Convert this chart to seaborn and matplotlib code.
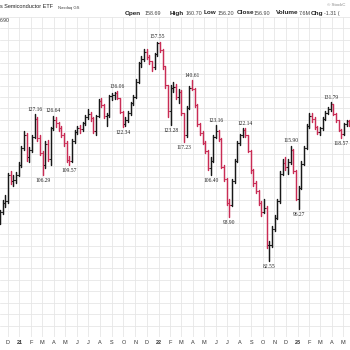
import numpy as np
import pandas as pd
import matplotlib
matplotlib.use("Agg")
import matplotlib.pyplot as plt
import seaborn as sns

# ---------------- data (weekly OHLC) ----------------
first_open = 92.5
close = [95.4, 98.0, 98.5, 106.3, 104.6, 104.8, 106.3, 109.5, 115.2, 119.5,
         112.2, 114.6, 119.0, 125.5, 118.5, 113.5, 109.5, 116.5, 111.5, 122.0,
         125.0, 123.8, 122.0, 119.8, 116.8, 111.2, 111.0, 117.5, 120.8, 122.2,
         121.8, 123.9, 126.3, 127.2, 125.8, 121.2, 126.5, 132.3, 130.8, 126.5,
         126.8, 134.2, 134.5, 135.6, 133.5, 128.2, 123.5, 125.0, 127.6, 131.4,
         133.8, 140.0, 147.8, 149.8, 153.0, 150.5, 148.8, 146.0, 151.8, 156.8,
         153.5, 146.6, 138.5, 128.5, 137.5, 138.0, 133.8, 136.0, 127.5, 119.5,
         129.5, 137.5, 137.0, 130.8, 123.5, 120.5, 117.0, 114.0, 108.5, 111.0,
         119.0, 121.0, 118.2, 109.0, 105.0, 98.0, 97.5, 104.5, 110.8, 116.8,
         119.5, 121.5, 119.5, 114.3, 107.8, 103.8, 101.5, 98.0, 95.5, 96.5,
         86.5, 86.5, 90.8, 93.8, 98.5, 106.8, 110.2, 108.8, 110.5, 114.5,
         107.5, 99.0, 102.5, 110.0, 115.2, 122.8, 126.5, 125.5, 122.5, 120.8,
         122.0, 125.5, 127.8, 129.0, 131.0, 127.3, 125.0, 121.5, 120.0, 123.5,
         124.6, 123.6]
high = [96.0, 98.8, 100.2, 107.0, 107.5, 106.3, 107.4, 110.4, 116.0, 121.0,
        120.5, 115.5, 119.8, 127.16, 126.0, 119.5, 114.0, 117.5, 118.0, 122.5,
        126.64, 126.0, 124.5, 122.8, 120.5, 117.5, 112.5, 118.2, 121.5, 123.0,
        123.2, 124.5, 127.0, 129.0, 128.0, 126.3, 127.0, 133.0, 133.5, 131.0,
        127.5, 134.8, 135.5, 136.0, 136.06, 133.5, 128.5, 126.2, 128.3, 132.0,
        134.5, 141.0, 148.5, 151.0, 154.2, 154.0, 151.5, 149.0, 152.5, 157.55,
        157.2, 154.0, 146.5, 138.5, 138.5, 140.0, 139.2, 137.0, 136.5, 127.5,
        130.3, 138.2, 140.61, 137.5, 131.0, 124.0, 121.0, 117.5, 114.5, 112.0,
        119.5, 123.16, 121.5, 118.5, 109.5, 105.5, 99.0, 105.2, 111.5, 117.5,
        120.0, 122.0, 122.14, 119.8, 114.5, 108.2, 104.5, 101.8, 98.5, 99.2,
        97.0, 87.5, 91.5, 94.5, 99.2, 107.5, 111.5, 112.0, 111.5, 115.90,
        114.8, 107.8, 103.0, 110.8, 116.0, 123.5, 127.8, 127.5, 126.0, 123.0,
        122.6, 126.0, 128.5, 129.8, 131.79, 131.2, 127.5, 125.2, 121.8, 124.0,
        125.2, 125.0]
low = [92.0, 94.8, 96.8, 98.0, 103.5, 103.0, 103.8, 105.9, 109.0, 114.5,
       111.0, 110.5, 113.8, 118.5, 117.5, 112.8, 106.29, 108.5, 110.8, 109.6,
       121.5, 122.5, 121.0, 119.0, 116.0, 110.5, 109.57, 110.5, 116.8, 120.0,
       120.5, 121.0, 123.2, 125.5, 124.8, 120.5, 119.8, 126.0, 129.8, 125.8,
       122.8, 126.0, 132.5, 133.2, 133.0, 127.5, 122.34, 123.0, 124.3, 127.0,
       130.8, 133.5, 139.5, 146.0, 149.0, 149.5, 147.5, 144.5, 145.5, 151.0,
       152.8, 145.5, 137.5, 126.0, 123.28, 135.8, 133.0, 131.5, 126.8, 117.23,
       118.8, 129.0, 136.5, 130.0, 123.0, 119.8, 116.5, 113.5, 107.8, 106.40,
       110.5, 118.5, 117.5, 108.5, 104.5, 97.5, 93.90, 97.0, 104.0, 110.5,
       116.2, 118.8, 119.0, 113.8, 107.0, 103.0, 100.8, 97.5, 94.2, 95.0,
       85.8, 82.55, 86.0, 90.2, 93.5, 98.0, 106.5, 108.0, 106.8, 110.0,
       107.0, 98.8, 96.27, 102.0, 109.5, 114.8, 122.0, 124.5, 121.8, 120.0,
       119.8, 121.5, 125.0, 127.2, 128.5, 126.8, 124.5, 121.0, 118.57, 119.5,
       123.0, 123.0]

peak_labels = [127.16, 126.64, 136.06, 157.55, 140.61, 123.16, 122.14, 115.90, 131.79]
trough_labels = [106.29, 109.57, 122.34, 123.28, 117.23, 106.40, 93.90, 82.55, 96.27, 118.57]

month_labels = ["D", "21", "F", "M", "A", "M", "J", "J", "A", "S", "O", "N",
                "D", "22", "F", "M", "A", "M", "J", "J", "A", "S", "O", "N",
                "D", "23", "F", "M", "A", "M"]

title = "s Semiconductor ETF"
exchange = "Nasdaq GS"
header = [("Open", "158.69"), ("High", "160.70"), ("Low", "156.20"),
          ("Close", "156.90"), ("Volume", "7.6M"), ("Chg", "-1.31 (")]

# ---------------- build frame ----------------
dates = pd.date_range("2020-11-11", periods=len(close), freq="7D")
opens = [first_open] + close[:-1]
df = pd.DataFrame({"date": dates, "open": opens, "high": high, "low": low, "close": close})
df["dir"] = np.where(df["close"] >= df["open"], "up", "down")
df["bar"] = np.arange(len(df))
long = pd.concat([
    df[["date", "bar", "dir"]].assign(price=df["low"]),
    df[["date", "bar", "dir"]].assign(price=df["high"]),
]).sort_values(["bar", "price"])

sns.set_style("white")
plt.rcParams["font.family"] = ["Liberation Sans", "DejaVu Sans"]

W = H = 350
fig = plt.figure(figsize=(3.5, 3.5), dpi=100)
ax_bottom, ax_top = 337, 17
ax = fig.add_axes([0, 1 - ax_bottom / H, 1, (ax_bottom - ax_top) / H])
ax.set_yscale("log")

palette = {"up": "#181818", "down": "#c92c55"}
sns.lineplot(data=long, x="date", y="price", units="bar", estimator=None,
             hue="dir", palette=palette, legend=False, lw=1.05, sort=False, ax=ax)

# open / close ticks
tick = pd.Timedelta(days=3)
for d_, o_, c_, s_ in zip(df["date"], df["open"], df["close"], df["dir"]):
    ax.plot([d_ - tick, d_], [o_, o_], color=palette[s_], lw=0.8)
    ax.plot([d_, d_ + tick], [c_, c_], color=palette[s_], lw=0.8)

ax.set_ylim(69.5, 164.5)
ax.set_xlim(pd.Timestamp("2020-11-11"), pd.Timestamp("2020-11-11") + pd.Timedelta(days=918.5))

# grid
month_starts = pd.date_range("2020-12-01", periods=len(month_labels), freq="MS")
ax.set_xticks(month_starts)
ax.set_xticklabels(month_labels)
for lab in ax.get_xticklabels():
    lab.set_fontsize(4.0)
    lab.set_color("#333333")
    if lab.get_text().isdigit():
        lab.set_fontweight("bold")
ax.tick_params(axis="x", length=0, pad=2.0)
ygrid = np.exp(np.arange(np.log(66.0), np.log(170.0), 12.5 / 371.3))
ax.set_yticks(ygrid)
ax.set_yticklabels([])
ax.yaxis.set_minor_locator(matplotlib.ticker.NullLocator())
ax.tick_params(axis="y", length=0)
ax.grid(True, color="#e6e6e6", lw=0.6)
ax.set_axisbelow(True)
for s in ax.spines.values():
    s.set_visible(False)
ax.set_xlabel("")
ax.set_ylabel("")

# annotations
for v in peak_labels:
    r = df.loc[(df["high"] - v).abs().idxmin()]
    ax.annotate(f"{v:.2f}", (r["date"], v), xytext=(0, 2.5), textcoords="offset pixels",
                ha="center", va="bottom", fontsize=4.0, family="Liberation Serif", color="#222222")
for v in trough_labels:
    r = df.loc[(df["low"] - v).abs().idxmin()]
    ax.annotate(f"{v:.2f}", (r["date"], v), xytext=(0, -3), textcoords="offset pixels",
                ha="center", va="top", fontsize=4.0, family="Liberation Serif", color="#222222")

# header texts
def ftxt(x, y, s, **kw):
    fig.text(x / W, 1 - y / H, s, va="center", **kw)

ftxt(0, 7, title, fontsize=4.0, color="#222222")
ftxt(58, 7.5, exchange, fontsize=3.0, color="#444444")
ftxt(327, 5, "\u00a9 StockC", fontsize=3.2, color="#888888")
ftxt(0, 20, "6.90", fontsize=3.6, color="#333333")
xs = [(125, 145), (170, 186), (204, 218), (237, 254), (276, 299), (311, 324)]
for (lab, val), (xl, xv) in zip(header, xs):
    ftxt(xl, 13, lab, fontsize=4.6, fontweight="bold", color="#222222")
    ftxt(xv, 13.3, val, fontsize=3.9, color="#444444")

fig.savefig("out.png", dpi=100, facecolor="white")
